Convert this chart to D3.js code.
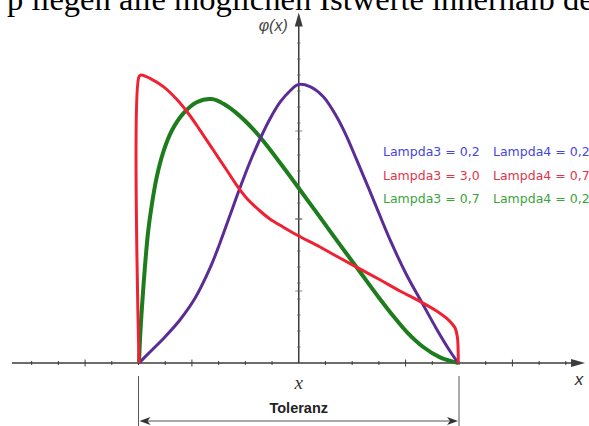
<!DOCTYPE html>
<meta charset="utf-8">
<title>Lambda-Verteilungen innerhalb der Toleranz</title>
<style>
    body { margin: 0; background: #fff; overflow: hidden; }
    svg { display: block; }
</style>

<script src="https://d3js.org/d3.v7.min.js"></script>

<svg width="589" height="426"></svg>

<script>
    // ---- data (x in tick units, y in density units) ----
    const purple = [[-5.98, 0], [-5.57, 0.69], [-5.01, 1.63], [-4.45, 2.69], [-3.88, 4.06],
        [-3.32, 5.94], [-2.95, 7.5], [-2.57, 9.25], [-2.20, 10.95], [-1.83, 12.55],
        [-1.45, 14.0], [-1.08, 15.25], [-0.70, 16.3], [-0.33, 17.0], [-0.02, 17.4],
        [0.42, 17.27], [0.92, 16.64], [1.42, 15.39], [1.80, 14.14], [2.17, 12.69],
        [2.54, 11.23], [2.85, 9.98], [3.42, 7.69], [4.04, 5.5], [4.60, 3.81],
        [5.16, 2.13], [5.66, 0.75], [5.97, 0]];

    const red = [[-5.98, 0], [-5.98, 17.9], [-5.90, 18.0], [-5.57, 17.79], [-5.07, 17.27],
        [-4.57, 16.48], [-4.14, 15.61], [-3.70, 14.56], [-3.20, 13.31], [-2.70, 12.06],
        [-2.32, 11.1], [-1.95, 10.3], [-1.45, 9.5], [-1.08, 9.0], [-0.59, 8.5],
        [-0.07, 8.0], [0.80, 7.25], [1.54, 6.56], [2.29, 5.88], [3.04, 5.2],
        [3.79, 4.5], [4.54, 3.85], [5.16, 3.25], [5.60, 2.7], [5.85, 2.2],
        [5.94, 1.6], [5.97, 0.6], [5.97, 0]];

    const green = [[-5.98, 0], [-5.94, 1.6], [-5.87, 3.5], [-5.76, 6.0], [-5.64, 8.2],
        [-5.51, 9.8], [-5.32, 11.6], [-5.07, 13.2], [-4.76, 14.5], [-4.32, 15.6],
        [-3.82, 16.3], [-3.26, 16.5], [-2.82, 16.2], [-2.32, 15.6], [-1.70, 14.6],
        [-1.08, 13.35], [-0.45, 11.95], [0.05, 10.81], [0.80, 9.1], [1.54, 7.4],
        [2.29, 5.7], [3.04, 4.0], [3.53, 2.95], [4.04, 1.95], [4.66, 1.0],
        [5.29, 0.35], [5.85, 0.05], [5.97, 0]];

    const xTicks = [-10, -9, -8, -7, -6, -5, -4, -3, -2, -1, 1, 2, 3, 4, 5, 6, 7, 8, 9, 10];
    const xMajor = [-8, -4, 4, 8];
    const yTicks = [1, 2, 3, 4, 5, 6, 7, 8, 9, 10, 11, 12, 13, 14, 15, 16, 17, 18, 19, 20];
    const yMajor = [4.5, 9, 14.5];

    const legendL3 = ["Lampda3 = 0,2", "Lampda3 = 3,0", "Lampda3 = 0,7"];
    const legendL4 = ["Lampda4 = 0,2", "Lampda4 = 0,7", "Lampda4 = 0,2"];
    const legendColors = ["#4646e0", "#e0364a", "#3aa43a"];

    const tolerance = [-6, 6];
    const headerText = "p liegen alle möglichen Istwerte innerhalb der";

    // ---- setup ----
    const svg = d3.select("svg");
    const axisColor = "#3c3c3c";

    const x = d3.scaleLinear().domain([-6, 6]).range([138.5, 459]);
    const y = d3.scaleLinear().domain([0, 18]).range([363, 75]);

    // cut-off text line from the page above the figure
    svg.append("text")
        .attr("x", 7)
        .attr("y", 10)
        .style("font-family", "'Liberation Serif', 'Times New Roman', serif")
        .style("font-size", "32.5px")
        .attr("fill", "#000")
        .text(headerText);

    // axes
    const xEnd = x(10.72), xStart = x(-10.74);
    svg.append("line")
        .attr("x1", xStart).attr("x2", xEnd - 6)
        .attr("y1", y(0)).attr("y2", y(0))
        .attr("stroke", axisColor).attr("stroke-width", 1.5);
    svg.append("path")
        .attr("d", `M${xEnd},${y(0)} L${xEnd - 14},${y(0) - 4} L${xEnd - 14},${y(0) + 4} Z`)
        .attr("fill", axisColor);

    const yTop = y(21.9);
    svg.append("line")
        .attr("x1", x(0)).attr("x2", x(0))
        .attr("y1", y(0)).attr("y2", yTop + 6)
        .attr("stroke", axisColor).attr("stroke-width", 1.5);
    svg.append("path")
        .attr("d", `M${x(0)},${yTop} L${x(0) - 4},${yTop + 14} L${x(0) + 4},${yTop + 14} Z`)
        .attr("fill", axisColor);

    svg.append("g").selectAll("line")
        .data(xTicks)
        .join("line")
        .attr("x1", d => x(d)).attr("x2", d => x(d))
        .attr("y1", d => y(0) - (xMajor.includes(d) ? 3.5 : 2))
        .attr("y2", d => y(0) + (xMajor.includes(d) ? 3.5 : 2))
        .attr("stroke", axisColor).attr("stroke-width", 1);

    svg.append("g").selectAll("line")
        .data(yTicks.concat(yMajor))
        .join("line")
        .attr("x1", d => x(0) - (yMajor.includes(d) ? 3.5 : 1.8))
        .attr("x2", d => x(0) + (yMajor.includes(d) ? 3.5 : 1.8))
        .attr("y1", d => y(d)).attr("y2", d => y(d))
        .attr("stroke", "#666").attr("stroke-width", 0.8);

    // axis labels
    svg.append("text")
        .attr("x", x(0) - 11).attr("y", 31)
        .attr("text-anchor", "end")
        .style("font-family", "'Liberation Sans', Arial, sans-serif")
        .style("font-style", "italic")
        .style("font-size", "16px")
        .attr("fill", "#444")
        .text("φ(x)");

    svg.append("text")
        .attr("x", 579).attr("y", 385)
        .attr("text-anchor", "middle")
        .style("font-family", "'Liberation Sans', Arial, sans-serif")
        .style("font-style", "italic")
        .style("font-size", "17px")
        .attr("fill", "#333")
        .text("x");

    svg.append("text")
        .attr("x", x(0)).attr("y", 389)
        .attr("text-anchor", "middle")
        .style("font-family", "'Liberation Serif', 'Times New Roman', serif")
        .style("font-style", "italic")
        .style("font-size", "19px")
        .attr("fill", "#333")
        .text("x");

    // curves
    const line = d3.line()
        .x(d => x(d[0]))
        .y(d => y(d[1]))
        .curve(d3.curveCatmullRom.alpha(0.5));

    const curves = [
        { data: green, color: "#1d7d1d", width: 4 },
        { data: purple, color: "#5a2d96", width: 3 },
        { data: red, color: "#ee2232", width: 3 }
    ];

    svg.append("g").selectAll("path")
        .data(curves)
        .join("path")
        .attr("d", d => line(d.data))
        .attr("fill", "none")
        .attr("stroke", d => d.color)
        .attr("stroke-width", d => d.width)
        .attr("stroke-linejoin", "round");

    // legend
    const legend = svg.append("g")
        .style("font-family", "'DejaVu Sans', Verdana, sans-serif")
        .style("font-size", "12.5px");
    legend.selectAll("text.l3")
        .data(legendL3)
        .join("text")
        .attr("class", "l3")
        .attr("x", 383).attr("y", (d, i) => 156 + i * 23.5)
        .attr("fill", (d, i) => legendColors[i])
        .text(d => d);
    legend.selectAll("text.l4")
        .data(legendL4)
        .join("text")
        .attr("class", "l4")
        .attr("x", 493).attr("y", (d, i) => 156 + i * 23.5)
        .attr("fill", (d, i) => legendColors[i])
        .text(d => d);

    // tolerance dimension
    const dimY = 421;
    svg.append("g").selectAll("line")
        .data(tolerance)
        .join("line")
        .attr("x1", d => x(d)).attr("x2", d => x(d))
        .attr("y1", 376).attr("y2", 426)
        .attr("stroke", "#555").attr("stroke-width", 1);
    svg.append("line")
        .attr("x1", x(tolerance[0]) + 8).attr("x2", x(tolerance[1]) - 8)
        .attr("y1", dimY).attr("y2", dimY)
        .attr("stroke", "#555").attr("stroke-width", 1.2);
    svg.append("path")
        .attr("d", `M${x(tolerance[0]) + 1},${dimY} l11,-4 l-3,4 l3,4 Z`)
        .attr("fill", "#333");
    svg.append("path")
        .attr("d", `M${x(tolerance[1]) - 1},${dimY} l-11,-4 l3,4 l-3,4 Z`)
        .attr("fill", "#333");

    svg.append("text")
        .attr("x", x(0)).attr("y", 413)
        .attr("text-anchor", "middle")
        .style("font-family", "'Liberation Sans', Arial, sans-serif")
        .style("font-weight", "bold")
        .style("font-size", "14.5px")
        .attr("fill", "#222")
        .text("Toleranz");
</script>
